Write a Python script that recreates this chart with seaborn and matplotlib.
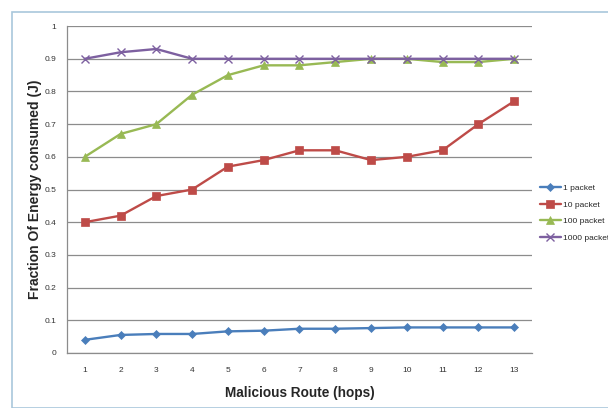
import matplotlib
matplotlib.use("Agg")
import matplotlib.pyplot as plt
import seaborn as sns
import pandas as pd
from matplotlib.patches import Rectangle

hops = list(range(1, 14))
series_names = ["1 packet", "10 packet", "100 packet", "1000 packet"]
one_packet = [0.040, 0.055, 0.058, 0.058, 0.066, 0.068, 0.074, 0.074, 0.076, 0.078, 0.078, 0.078, 0.078]
ten_packet = [0.40, 0.42, 0.48, 0.50, 0.57, 0.59, 0.62, 0.62, 0.59, 0.60, 0.62, 0.70, 0.77]
hundred_packet = [0.60, 0.67, 0.70, 0.79, 0.85, 0.88, 0.88, 0.89, 0.90, 0.90, 0.89, 0.89, 0.90]
thousand_packet = [0.90, 0.92, 0.93, 0.90, 0.90, 0.90, 0.90, 0.90, 0.90, 0.90, 0.90, 0.90, 0.90]
y_tick_labels = ["0", "0.1", "0.2", "0.3", "0.4", "0.5", "0.6", "0.7", "0.8", "0.9", "1"]

colors = ["#4a7ebb", "#be4b48", "#98b954", "#7d60a0"]
markers = ["D", "s", "^", "x"]
msizes = [4, 6, 6, 6]

frames = []
for name, vals in zip(series_names, [one_packet, ten_packet, hundred_packet, thousand_packet]):
    frames.append(pd.DataFrame({"hops": hops, "energy": vals, "series": name}))
df = pd.concat(frames, ignore_index=True)

sns.set_style("white")
plt.rcParams["font.family"] = ["Liberation Sans", "DejaVu Sans"]

fig = plt.figure(figsize=(6.08, 4.08), dpi=100)
ax = fig.add_axes([0.110, 0.135, 0.765, 0.801])

for name, c, m, ms in zip(series_names, colors, markers, msizes):
    sub = df[df["series"] == name]
    sns.lineplot(data=sub, x="hops", y="energy", ax=ax, color=c, marker=m,
                 markersize=ms, linewidth=1.7, label=name,
                 markeredgecolor=c, markeredgewidth=1.0 if m == "x" else 0.5)

ax.set_xlim(0.5, 13.5)
ax.set_ylim(0, 1)
ax.set_yticks([i / 10 for i in range(11)])
ax.set_yticklabels(y_tick_labels)
ax.set_xticks(hops)
ax.set_xticklabels([str(h) for h in hops])
ax.set_xticks([h + 0.5 for h in range(0, 14)], minor=True)
ax.tick_params(axis="x", which="major", length=0, labelsize=6, pad=10, colors="#333333")
ax.tick_params(axis="x", which="minor", length=4, color="#888888", direction="out")
ax.tick_params(axis="y", which="major", length=4, color="#888888", direction="out",
               labelsize=6, colors="#333333")
ax.yaxis.grid(True, color="#8c8c8c", linewidth=0.9)
ax.set_axisbelow(True)
for s in ["top", "right"]:
    ax.spines[s].set_visible(False)
for s in ["left", "bottom"]:
    ax.spines[s].set_color("#8c8c8c")
    ax.spines[s].set_linewidth(0.9)

ax.set_xlabel("Malicious Route (hops)", fontsize=9.8, fontweight="bold", labelpad=9)
ax.set_ylabel("Fraction Of Energy consumed (J)", fontsize=10, fontweight="bold", labelpad=2)

leg = ax.legend(loc="center left", bbox_to_anchor=(1.0, 0.428), frameon=False,
                fontsize=6, handlelength=2.6, labelspacing=1.05, handletextpad=0.2)

# outer chart frame
fig.patches.append(Rectangle((12 / 608, 0.0), 1.0, 1 - 12 / 408, transform=fig.transFigure,
                             fill=False, edgecolor="#a9c7dc", linewidth=1.2))

fig.savefig("out.png", dpi=100)
